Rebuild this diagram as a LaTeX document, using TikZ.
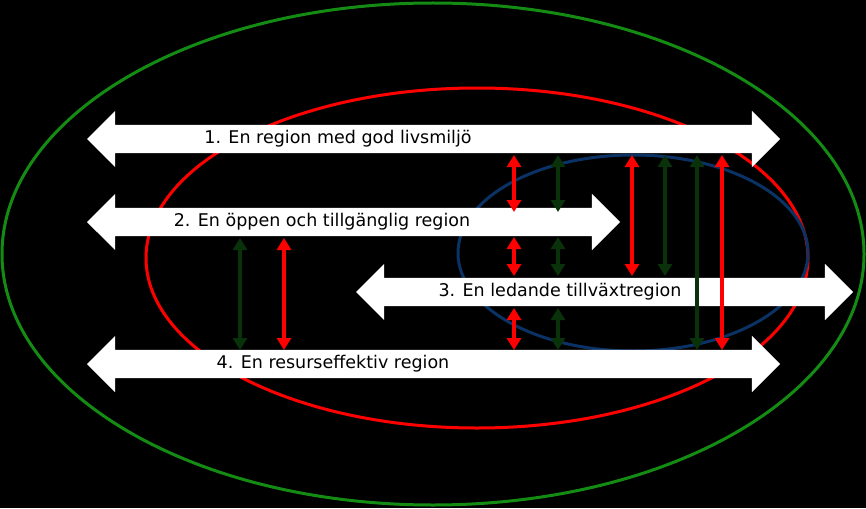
\documentclass[tikz,border=0pt]{standalone}
\usepackage{fontspec}
\setmainfont{DejaVu Sans}
\usetikzlibrary{shapes.arrows,arrows.meta}
\definecolor{ringgreen}{RGB}{20,140,20}
\definecolor{ringblue}{RGB}{10,50,100}
\definecolor{darkgreen}{RGB}{10,50,10}
\begin{document}
\begin{tikzpicture}[x=1pt,y=-1pt,
    band/.style={double arrow, fill=white, inner sep=0pt, text height=14pt, text depth=14pt,
      double arrow head extend=14pt, double arrow tip angle=90},
    bandtext/.style={font=\fontsize{17.5}{20}\selectfont, text=black},
    link/.style={line width=3.5pt, {Triangle[length=12pt,width=14pt]}-{Triangle[length=12pt,width=14pt]}},
    redlink/.style={link, red},
    greenlink/.style={link, darkgreen}
  ]
  \fill[black] (0,0) rectangle (866,508);
  \draw[ringgreen, line width=3pt] (433,254) ellipse [x radius=431, y radius=251];
  \draw[red, line width=3pt] (477,258) ellipse [x radius=331, y radius=170];
  \draw[ringblue, line width=3pt] (633,253) ellipse [x radius=175, y radius=98];

  \node[band, minimum height=693pt] (r1) at (433.5,139) {};
  \node[band, minimum height=533pt] (r2) at (353.5,222) {};
  \node[band, minimum height=497pt] (r3) at (604.5,292) {};
  \node[band, minimum height=693pt] (r4) at (433.5,364) {};
  \node[bandtext] (t1) at (338,139) {1. En region med god livsmiljö};
  \node[bandtext] (t2) at (322,222) {2. En öppen och tillgänglig region};
  \node[bandtext] (t3) at (560,292) {3. En ledande tillväxtregion};
  \node[bandtext] (t4) at (333,364) {4. En resurseffektiv region};

  % short links between the bands
  \foreach \x/\s in {514/redlink,558/greenlink}{
    \coordinate (a\x) at (\x,155); \coordinate (b\x) at (\x,212);
    \coordinate (c\x) at (\x,237); \coordinate (d\x) at (\x,276);
    \coordinate (e\x) at (\x,308); \coordinate (f\x) at (\x,350);
    \draw[\s] (a\x) -- (b\x);
    \draw[\s] (c\x) -- (d\x);
    \draw[\s] (e\x) -- (f\x);
  }
  % long links
  \foreach \x/\s/\ya/\yb in {240/greenlink/238/350, 284/redlink/238/350,
      632/redlink/155/276, 665/greenlink/155/276,
      697/greenlink/155/350, 722/redlink/155/350}{
    \coordinate (p\x) at (\x,\ya); \coordinate (q\x) at (\x,\yb);
    \draw[\s] (p\x) -- (q\x);
  }
\end{tikzpicture}
\end{document}
